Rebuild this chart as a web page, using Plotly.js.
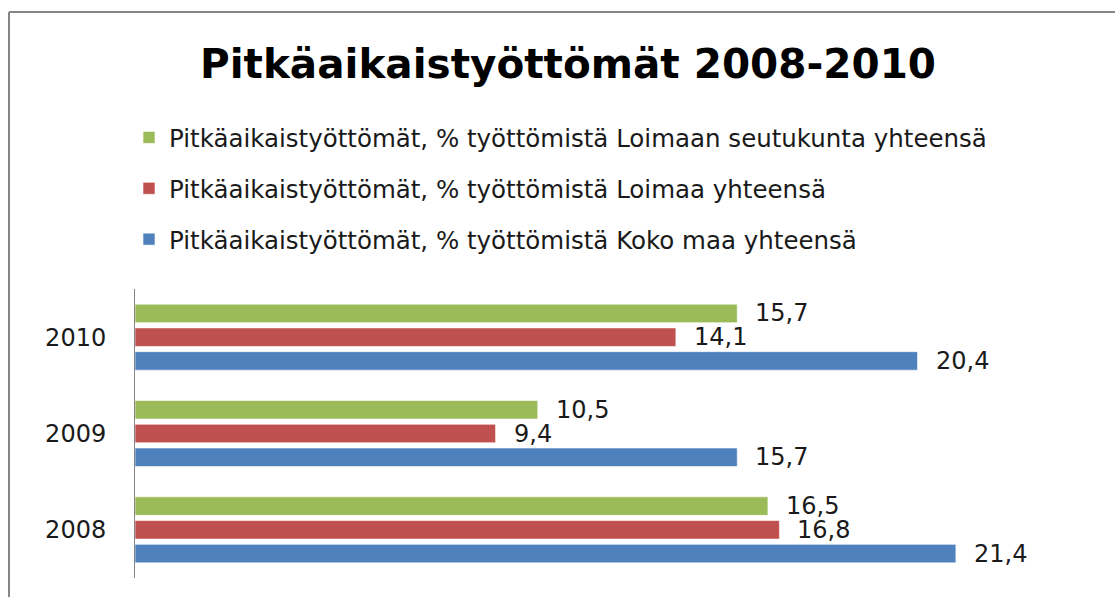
<!DOCTYPE html>
<html>
<head>
<meta charset="utf-8">
<script src="https://cdn.plot.ly/plotly-3.0.1.min.js"></script>
<style>html,body{margin:0;padding:0;background:#fff;}</style>
</head>
<body>
<div id="chart" style="width:1115px;height:597px;"></div>
<script>
// Data
const years = ['2008', '2009', '2010'];
const seriesNames = [
  'Pitkäaikaistyöttömät, % työttömistä Koko maa yhteensä',
  'Pitkäaikaistyöttömät, % työttömistä Loimaa yhteensä',
  'Pitkäaikaistyöttömät, % työttömistä Loimaan seutukunta yhteensä'
];
const kokoMaa = [21.4, 15.7, 20.4];
const loimaa = [16.8, 9.4, 14.1];
const seutukunta = [16.5, 10.5, 15.7];
const seriesValues = [kokoMaa, loimaa, seutukunta];
const colors = ['#4F81BD', '#C0504D', '#9BBB59'];

const FONT = 'DejaVu Sans, Verdana, sans-serif';
const bargap = 0.26;
const slot = (1 - bargap) / 3;

const traces = seriesValues.map((vals, i) => ({
  type: 'bar',
  orientation: 'h',
  name: seriesNames[i],
  x: vals,
  y: years,
  legendgroup: 'g' + i,
  legendrank: 3 - i,
  marker: {color: colors[i], line: {color: 'rgba(255,255,255,0.6)', width: 1}},
  hoverinfo: 'x+name'
}));

const annotations = [];
seriesValues.forEach((vals, i) => {
  vals.forEach((v, j) => {
    annotations.push({
      xref: 'x', yref: 'y',
      x: v, y: j + (i - 1) * slot,
      text: v.toFixed(1).replace('.', ','),
      showarrow: false,
      xanchor: 'left', yanchor: 'middle',
      xshift: 16,
      font: {family: FONT, size: 24, color: '#1a1a1a'}
    });
  });
});

const plotL = 135, plotR = 1094, plotT = 289, plotB = 578;
const pw = plotR - plotL, ph = plotB - plotT;
const px = v => (v - plotL) / pw;
const py = v => (plotB - v) / ph;

const layout = {
  width: 1115, height: 597,
  margin: {l: plotL, r: 1115 - plotR, t: plotT, b: 597 - plotB, pad: 0, autoexpand: false},
  paper_bgcolor: '#ffffff', plot_bgcolor: '#ffffff',
  title: {
    text: '<b>Pitkäaikaistyöttömät 2008-2010</b>',
    font: {family: FONT, size: 40.5, color: '#000000'},
    x: 568 / 1115, xanchor: 'center', xref: 'container',
    y: 1 - 64 / 597, yanchor: 'middle', yref: 'container'
  },
  barmode: 'group',
  bargap: bargap,
  bargroupgap: 0.22,
  xaxis: {range: [0, 25], visible: false, fixedrange: true},
  yaxis: {
    type: 'category', range: [-0.5, 2.5],
    showline: true, linecolor: '#868686', linewidth: 1,
    ticks: '', ticklabelstandoff: 23, showgrid: false, zeroline: false,
    tickfont: {family: FONT, size: 24, color: '#1a1a1a'}
  },
  showlegend: true,
  legend: {
    xref: 'container', yref: 'container',
    x: 129 / 1115, y: 1 - 115 / 597, xanchor: 'left', yanchor: 'top',
    traceorder: 'grouped',
    tracegroupgap: 16,
    font: {family: FONT, size: 24.5, color: '#1a1a1a'},
    bgcolor: 'rgba(0,0,0,0)'
  },
  annotations: annotations,
  shapes: [
    {type: 'line', xref: 'paper', yref: 'paper', x0: px(9), x1: px(1120), y0: py(12), y1: py(12), line: {color: '#868686', width: 2}},
    {type: 'line', xref: 'paper', yref: 'paper', x0: px(9), x1: px(9), y0: py(12), y1: py(605), line: {color: '#868686', width: 2}}
  ]
};

Plotly.newPlot('chart', traces, layout, {displayModeBar: false, staticPlot: true});
</script>
</body>
</html>
